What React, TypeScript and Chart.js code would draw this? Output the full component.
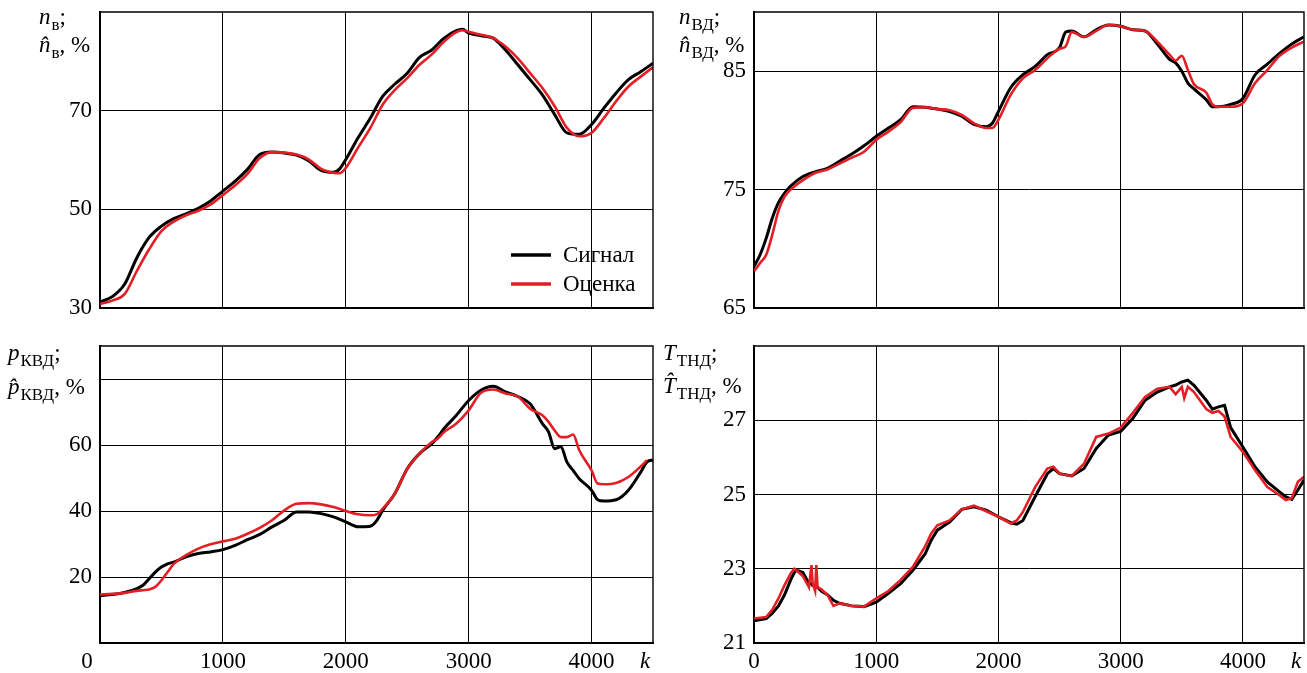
import React, { useEffect, useRef } from "react";
import { Chart, registerables } from "chart.js";

Chart.register(...registerables);

const FONT = '"Liberation Serif", "Times New Roman", serif';

// ---------- Panel 1: n_в ----------
const k1 = [0,100,200,300,400,500,600,700,800,900,1000,1100,1200,1300,1400,1500,1600,1700,1800,1900,1950,2000,2100,2200,2300,2400,2500,2600,2700,2800,2900,2950,3000,3100,3200,3300,3400,3500,3600,3700,3800,3900,4000,4100,4200,4300,4400,4500];
const sig1 = [31.2,32.3,34.8,40.2,44.3,46.6,48.1,49.1,50.2,51.7,53.7,55.7,58.1,61.1,61.6,61.4,61.0,59.8,57.9,57.5,58.2,60.1,64.5,68.5,72.9,75.4,77.6,80.8,82.3,84.7,86.2,86.5,85.7,85.2,84.7,82.3,79.3,76.3,73.2,69.2,65.5,65.2,67.2,70.5,73.6,76.3,77.9,79.6];
const est1 = [30.8,31.5,32.8,37.5,41.9,45.6,47.5,48.8,49.7,51.0,52.9,54.9,57.2,60.4,61.6,61.5,61.1,60.1,58.2,57.4,57.3,58.4,62.5,66.5,71.2,74.2,76.6,79.3,81.4,84.0,85.9,86.3,86.0,85.4,84.7,83.0,80.6,77.6,74.6,70.9,66.5,64.8,65.5,68.5,71.9,74.9,76.9,78.8];

// ---------- Panel 2: n_ВД ----------
const k2 = [0,50,100,150,200,250,300,400,500,600,700,800,900,1000,1100,1200,1300,1400,1500,1600,1700,1800,1900,1950,2000,2100,2200,2300,2400,2500,2550,2600,2700,2800,2900,3000,3100,3200,3300,3400,3450,3500,3550,3600,3700,3750,3800,3900,4000,4100,4200,4300,4400,4500];
const sig2 = [68.5,69.5,70.9,72.6,73.9,74.7,75.3,76.1,76.5,76.8,77.4,78.0,78.7,79.5,80.2,80.9,82.0,81.95,81.8,81.6,81.2,80.5,80.3,80.6,81.6,83.6,84.7,85.4,86.4,87.0,88.3,88.4,87.9,88.5,88.9,88.8,88.5,88.4,87.3,86.0,85.7,85.0,84.0,83.5,82.6,82.0,82.0,82.2,82.7,84.7,85.6,86.5,87.3,87.9];
const est2 = [68.1,68.8,69.5,71.2,73.2,74.4,75.0,75.8,76.4,76.7,77.2,77.7,78.2,79.2,79.9,80.7,81.9,81.95,81.8,81.7,81.3,80.6,80.2,80.2,80.9,83.0,84.4,85.1,86.1,86.9,87.1,88.3,87.9,88.4,88.9,88.8,88.5,88.4,87.5,86.4,85.9,86.3,85.1,83.9,83.2,82.2,82.0,82.0,82.3,84.0,85.1,86.3,87.0,87.5];

// ---------- Panel 3: p_КВД ----------
const k3 = [0,100,200,300,350,400,450,500,550,600,700,800,900,1000,1100,1200,1300,1400,1500,1600,1700,1800,1900,2000,2100,2200,2250,2300,2400,2500,2600,2700,2750,2800,2900,3000,3100,3200,3300,3400,3500,3600,3650,3700,3750,3800,3850,3900,4000,4050,4100,4200,4300,4400,4450,4500];
const sig3 = [14.4,14.7,15.3,16.5,17.5,19.5,21.5,23.0,24.0,24.5,26.1,27.1,27.6,28.3,29.6,31.3,32.9,35.2,37.2,39.7,39.7,39.2,38.2,36.7,35.2,35.4,37.0,40.2,45.3,52.8,57.4,60.4,62.5,65.0,69.0,73.5,76.6,77.8,76.1,74.7,72.5,66.5,64.0,58.9,59.5,54.8,52.3,49.8,46.3,43.4,43.0,43.4,46.3,51.8,54.8,55.5];
const est3 = [14.7,14.9,15.2,15.8,16.0,16.2,17.0,19.0,21.5,24.0,26.6,28.6,29.9,30.8,31.6,33.1,34.9,37.2,40.2,42.2,42.4,42.0,41.2,40.0,39.0,38.7,39.0,40.7,45.3,52.8,57.4,60.9,62.0,63.9,66.5,70.5,75.8,76.8,75.6,74.7,71.0,69.0,67.0,64.4,62.4,62.4,63.2,58.4,52.3,48.3,48.1,48.5,50.3,53.5,55.4,null];

// ---------- Panel 4: T_ТНД ----------
const k4 = [0,100,150,200,250,300,330,350,400,450,470,480,500,510,520,550,600,650,700,800,900,1000,1100,1200,1300,1400,1450,1500,1600,1700,1800,1900,2000,2100,2150,2200,2300,2400,2450,2500,2600,2700,2800,2900,3000,3100,3200,3300,3400,3450,3500,3520,3550,3600,3700,3750,3800,3850,3900,4000,4100,4200,4300,4350,4400,4450,4500];
const sig4 = [21.6,21.66,21.8,22.0,22.3,22.7,22.9,22.96,22.9,22.6,22.6,22.55,22.55,22.5,22.5,22.4,22.3,22.15,22.07,22.0,21.98,22.1,22.34,22.6,22.96,23.4,23.77,24.04,24.26,24.6,24.67,24.58,24.4,24.24,24.2,24.3,24.94,25.56,25.7,25.56,25.5,25.7,26.24,26.6,26.7,27.05,27.54,27.76,27.9,27.95,28.03,28.05,28.08,27.94,27.54,27.3,27.36,27.4,26.8,26.28,25.74,25.34,25.07,24.94,24.87,25.12,25.39];
const est4 = [21.66,21.7,21.9,22.2,22.56,22.87,23.0,22.95,22.8,22.5,23.1,22.6,22.4,23.1,22.5,22.45,22.3,22.0,22.07,22.0,21.98,22.2,22.4,22.7,23.05,23.6,23.95,24.17,24.3,24.6,24.7,24.55,24.4,24.22,24.3,24.53,25.2,25.7,25.75,25.56,25.5,25.83,26.55,26.64,26.8,27.2,27.63,27.85,27.9,27.7,27.9,27.6,27.9,27.76,27.3,27.2,27.25,27.1,26.55,26.15,25.65,25.2,24.98,24.85,24.9,25.34,25.48];

const xTicks = [0, 1000, 2000, 3000, 4000];
const legendLabels = ["Сигнал", "Оценка"];
const SIG_COLOR = "#000000";
const EST_COLOR = "#e31e24";

type PanelCfg = {
  left: number; top: number; width: number; height: number;
  padTop: number; padRight: number; yWidth: number; xHeight: number;
  yMin: number; yMax: number; yTicks: number[]; yLabels: number[];
  showX: boolean; hideZero: boolean;
  k: number[]; sig: (number | null)[]; est: (number | null)[];
  smooth: boolean;
  title: { x: number; b1: number; b2: number; letter: string; sub: string };
  legend: boolean;
};

const panels: PanelCfg[] = [
  { left: 0, top: 0, width: 660, height: 320, padTop: 12, padRight: 7, yWidth: 100, xHeight: 12,
    yMin: 30, yMax: 90, yTicks: [30, 50, 70], yLabels: [30, 50, 70], showX: false, hideZero: false,
    k: k1, sig: sig1, est: est1, smooth: true,
    title: { x: 39, b1: 24, b2: 52, letter: "n", sub: "в" }, legend: true },
  { left: 660, top: 0, width: 647, height: 320, padTop: 12, padRight: 3, yWidth: 94, xHeight: 12,
    yMin: 65, yMax: 90, yTicks: [65, 75, 85], yLabels: [65, 75, 85], showX: false, hideZero: false,
    k: k2, sig: sig2, est: est2, smooth: true,
    title: { x: 19, b1: 24, b2: 52, letter: "n", sub: "ВД" }, legend: false },
  { left: 0, top: 330, width: 660, height: 343, padTop: 16, padRight: 7, yWidth: 100, xHeight: 30,
    yMin: 0, yMax: 90, yTicks: [0, 20, 40, 60, 80], yLabels: [20, 40, 60], showX: true, hideZero: true,
    k: k3, sig: sig3, est: est3, smooth: true,
    title: { x: 8, b1: 30, b2: 64, letter: "p", sub: "КВД" }, legend: false },
  { left: 660, top: 330, width: 647, height: 343, padTop: 16, padRight: 3, yWidth: 94, xHeight: 30,
    yMin: 21, yMax: 29, yTicks: [21, 23, 25, 27], yLabels: [21, 23, 25, 27], showX: true, hideZero: false,
    k: k4, sig: sig4, est: est4, smooth: false,
    title: { x: 3, b1: 30, b2: 63, letter: "T", sub: "ТНД" }, legend: false },
];

function drawTitleLine(ctx: CanvasRenderingContext2D, x: number, base: number, letter: string, hat: boolean, sub: string, tail: string) {
  ctx.fillStyle = "#000";
  ctx.textBaseline = "alphabetic";
  ctx.textAlign = "left";
  ctx.font = `italic 23px ${FONT}`;
  const w = ctx.measureText(letter).width;
  ctx.fillText(hat ? letter + "\u0302" : letter, x, base);
  ctx.font = `17px ${FONT}`;
  const w2 = ctx.measureText(sub).width;
  ctx.fillText(sub, x + w + 1, base + 6);
  ctx.font = `23px ${FONT}`;
  ctx.fillText(tail, x + w + 1 + w2, base);
}

function Panel({ cfg }: { cfg: PanelCfg }) {
  const ref = useRef<HTMLCanvasElement>(null);
  useEffect(() => {
    if (!ref.current) return;
    const deco = {
      id: "deco",
      afterDraw(chart: any) {
        const ctx = chart.ctx as CanvasRenderingContext2D;
        const a = chart.chartArea;
        ctx.save();
        // top & right frame
        ctx.strokeStyle = "#000";
        ctx.lineWidth = 1.4;
        ctx.beginPath();
        ctx.moveTo(a.left, a.top);
        ctx.lineTo(a.right, a.top);
        ctx.lineTo(a.right, a.bottom);
        ctx.stroke();
        // titles
        drawTitleLine(ctx, cfg.title.x, cfg.title.b1, cfg.title.letter, false, cfg.title.sub, ";");
        drawTitleLine(ctx, cfg.title.x, cfg.title.b2, cfg.title.letter, true, cfg.title.sub, ", %");
        // x extras
        if (cfg.showX) {
          const yc = a.bottom + 5 + 13.8;
          ctx.textBaseline = "middle";
          ctx.textAlign = "center";
          ctx.font = `italic 23px ${FONT}`;
          ctx.fillText("k", a.right - 8, yc);
          if (cfg.hideZero) {
            ctx.font = `23px ${FONT}`;
            ctx.fillText("0", a.left - 13, yc);
          }
        }
        if (cfg.legend) {
          const rows = [
            { y: 255, c: SIG_COLOR, t: legendLabels[0] },
            { y: 284, c: EST_COLOR, t: legendLabels[1] },
          ];
          for (const r of rows) {
            ctx.strokeStyle = r.c;
            ctx.lineWidth = 3.5;
            ctx.beginPath();
            ctx.moveTo(511, r.y);
            ctx.lineTo(551, r.y);
            ctx.stroke();
            ctx.fillStyle = "#000";
            ctx.font = `23px ${FONT}`;
            ctx.textAlign = "left";
            ctx.textBaseline = "middle";
            ctx.fillText(r.t, 563, r.y + 1);
          }
        }
        ctx.restore();
      },
    };
    const mk = (vals: (number | null)[]) => cfg.k.map((x, i) => ({ x, y: vals[i] }));
    const chart = new Chart(ref.current, {
      type: "line",
      data: {
        datasets: [
          { label: legendLabels[1], data: mk(cfg.est) as any, borderColor: EST_COLOR, borderWidth: 2.6, pointRadius: 0, order: 1,
            cubicInterpolationMode: cfg.smooth ? "monotone" : "default", tension: 0, fill: false },
          { label: legendLabels[0], data: mk(cfg.sig) as any, borderColor: SIG_COLOR, borderWidth: 3, pointRadius: 0, order: 2,
            cubicInterpolationMode: cfg.smooth ? "monotone" : "default", tension: 0, fill: false },
        ],
      },
      options: {
        animation: false,
        responsive: false,
        devicePixelRatio: 1,
        layout: { padding: { top: cfg.padTop, right: cfg.padRight, left: 0, bottom: 0 } },
        plugins: { legend: { display: false }, tooltip: { enabled: false } },
        scales: {
          x: {
            type: "linear", min: 0, max: 4500,
            afterBuildTicks: (s: any) => { s.ticks = xTicks.map((v) => ({ value: v })); },
            afterFit: (s: any) => { s.height = cfg.xHeight; s.paddingLeft = 0; s.paddingRight = 0; s.paddingTop = 0; s.paddingBottom = 0; },
            grid: { color: "#000", lineWidth: 1, drawTicks: false },
            border: { display: true, color: "#000", width: 2 },
            ticks: {
              display: cfg.showX, padding: 5, color: "#000", font: { family: FONT, size: 23 }, maxRotation: 0, autoSkip: false,
              callback: (v: any) => (cfg.hideZero && v === 0 ? "" : String(v)),
            },
          },
          y: {
            type: "linear", min: cfg.yMin, max: cfg.yMax,
            afterBuildTicks: (s: any) => { s.ticks = cfg.yTicks.map((v) => ({ value: v })); },
            afterFit: (s: any) => { s.width = cfg.yWidth; s.paddingTop = 0; s.paddingBottom = 0; s.paddingLeft = 0; s.paddingRight = 0; },
            grid: { color: "#000", lineWidth: 1, drawTicks: false },
            border: { display: true, color: "#000", width: 2 },
            ticks: {
              padding: 8, color: "#000", font: { family: FONT, size: 23 }, autoSkip: false,
              callback: (v: any) => (cfg.yLabels.includes(v) ? String(v) : ""),
            },
          },
        },
      },
      plugins: [deco],
    } as any);
    return () => chart.destroy();
  }, [cfg]);
  return (
    <canvas
      ref={ref}
      width={cfg.width}
      height={cfg.height}
      style={{ position: "absolute", left: cfg.left, top: cfg.top, width: cfg.width, height: cfg.height }}
    />
  );
}

export default function App() {
  return (
    <div style={{ position: "absolute", left: 0, top: 0, width: 1307, height: 673, background: "#fff", overflow: "hidden" }}>
      {panels.map((p, i) => (
        <Panel key={i} cfg={p} />
      ))}
    </div>
  );
}
